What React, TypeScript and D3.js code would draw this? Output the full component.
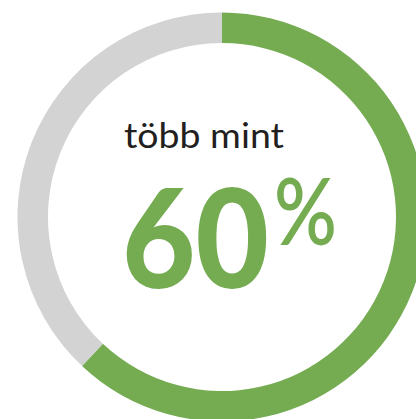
import React, { useEffect, useRef } from "react";
import * as d3 from "d3";

const categories = ["több mint 60%", "egyéb"];
const values = [62, 38];
const colors = ["#75ac52", "#d3d3d3"];
const labelTop = "több mint";
const labelBig = "60";
const labelPct = "%";

const W = 416;
const H = 419;

export default function App() {
  const ref = useRef<SVGSVGElement>(null);
  useEffect(() => {
    const svg = d3.select(ref.current);
    svg.selectAll("*").remove();
    const cx = 222, cy = 217, rOut = 204.5, rIn = 174;
    const pie = d3.pie<number>().sort(null).value((d) => d);
    const arc = d3.arc<d3.PieArcDatum<number>>().innerRadius(rIn).outerRadius(rOut);
    const g = svg.append("g").attr("transform", `translate(${cx},${cy})`);
    g.selectAll("path")
      .data(pie(values))
      .join("path")
      .attr("d", arc)
      .attr("fill", (_, i) => colors[i]);
    svg.append("text")
      .attr("x", 124)
      .attr("y", 148)
      .attr("font-family", "Lato, sans-serif")
      .attr("font-size", 34)
      .attr("fill", "#231f20")
      .attr("textLength", 160)
      .attr("lengthAdjust", "spacingAndGlyphs")
      .text(labelTop);
    svg.append("text")
      .attr("x", 122)
      .attr("y", 288)
      .attr("font-family", "Lato, sans-serif")
      .attr("font-weight", 900)
      .attr("font-size", 138)
      .attr("fill", colors[0])
      .attr("textLength", 147)
      .attr("lengthAdjust", "spacingAndGlyphs")
      .text(labelBig);
    svg.append("text")
      .attr("x", 274)
      .attr("y", 245)
      .attr("font-family", "Lato, sans-serif")
      .attr("font-weight", 600)
      .attr("font-size", 92)
      .attr("fill", colors[0])
      .attr("textLength", 63)
      .attr("lengthAdjust", "spacingAndGlyphs")
      .text(labelPct);
  }, []);
  return (
    <svg
      ref={ref}
      width={W}
      height={H}
      style={{ position: "absolute", left: 0, top: 0, background: "#fff" }}
    />
  );
}
